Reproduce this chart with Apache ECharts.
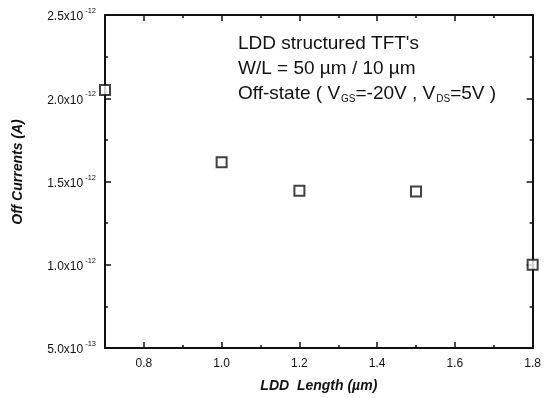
<!DOCTYPE html>
<html>
<head>
<meta charset="utf-8">
<script src="https://cdn.jsdelivr.net/npm/echarts@6/dist/echarts.min.js"></script>
<style>html,body{margin:0;padding:0;background:#fff;}#c{width:544px;height:398px;}</style>
</head>
<body>
<div id="c"></div>
<script>
// LDD length (um)
var lddLength = [0.7, 1.0, 1.2, 1.5, 1.8];
// Off currents, in units of 1e-12 A
var offCurrent = [2.05, 1.615, 1.445, 1.44, 1.0];
var xMajorTicks = [0.8, 1.0, 1.2, 1.4, 1.6, 1.8];
var xMinorTicks = [0.7, 0.9, 1.1, 1.3, 1.5, 1.7];
var yTickLabels = {"0.5": ["5.0x10", "-13"], "1": ["1.0x10", "-12"], "1.5": ["1.5x10", "-12"], "2": ["2.0x10", "-12"], "2.5": ["2.5x10", "-12"]};

var chart = echarts.init(document.getElementById('c'), null, {renderer: 'canvas'});
var FONT = "'Liberation Sans', Arial, sans-serif";
var lineStyle = {color: '#111', width: 2};
var xBase = {type: 'value', min: 0.7, max: 1.8, splitLine: {show: false}};
var option = {
  backgroundColor: '#fff',
  animation: false,
  grid: {left: 105, right: 10, top: 15, bottom: 48},
  xAxis: [
    Object.assign({}, xBase, {
      position: 'bottom',
      axisLine: {show: true, lineStyle: lineStyle},
      axisTick: {show: true, inside: true, length: 6, lineStyle: {color: '#111', width: 1.5}, customValues: xMajorTicks},
      axisLabel: {customValues: xMajorTicks, color: '#111', fontSize: 12, fontFamily: FONT, margin: 10,
        formatter: function (v) { return v.toFixed(1); }},
      name: '{t|LDD  Length (\u00b5m)}', nameLocation: 'middle', nameGap: 31,
      nameTextStyle: {rich: {t: {fontSize: 14, fontWeight: 'bold', fontStyle: 'italic', fontFamily: FONT, color: '#111'}}}
    }),
    Object.assign({}, xBase, {
      position: 'bottom',
      axisLine: {show: false},
      axisTick: {show: true, inside: true, length: 3, lineStyle: {color: '#111', width: 1.5}, customValues: xMinorTicks},
      axisLabel: {show: false}
    }),
    Object.assign({}, xBase, {
      position: 'top',
      axisLine: {show: true, lineStyle: lineStyle},
      axisTick: {show: true, inside: true, length: 6, lineStyle: {color: '#111', width: 1.5}, customValues: xMajorTicks},
      axisLabel: {show: false}
    }),
    Object.assign({}, xBase, {
      position: 'top',
      axisLine: {show: false},
      axisTick: {show: true, inside: true, length: 3, lineStyle: {color: '#111', width: 1.5}, customValues: xMinorTicks},
      axisLabel: {show: false}
    })
  ],
  yAxis: [
    {
      type: 'value', min: 0.5, max: 2.5, interval: 0.5, position: 'left',
      splitLine: {show: false},
      axisLine: {show: true, lineStyle: lineStyle},
      axisTick: {show: true, inside: true, length: 6, lineStyle: {color: '#111', width: 1.5}},
      minorTick: {show: true, splitNumber: 2, length: 3, lineStyle: {color: '#111', width: 1.5}},
      axisLabel: {
        margin: 9, color: '#111',
        formatter: function (v) {
          var k = String(Math.round(v * 10) / 10);
          var p = yTickLabels[k];
          return p ? '{b|' + p[0] + '}{s|' + p[1] + '}' : '';
        },
        rich: {
          b: {fontSize: 12, fontFamily: FONT, color: '#111', padding: [4, 0, 0, 0]},
          s: {fontSize: 7.5, fontFamily: FONT, color: '#111', padding: [0, 0, 8, 2]}
        }
      }
    },
    {
      type: 'value', min: 0.5, max: 2.5, interval: 0.5, position: 'right',
      splitLine: {show: false},
      axisLine: {show: true, lineStyle: lineStyle},
      axisTick: {show: true, inside: true, length: 6, lineStyle: {color: '#111', width: 1.5}},
      minorTick: {show: true, splitNumber: 2, length: 3, lineStyle: {color: '#111', width: 1.5}},
      axisLabel: {show: false}
    }
  ],
  graphic: [
    {type: 'text', x: 18, y: 172, rotation: Math.PI / 2, style: {
      text: 'Off Currents (A)', font: "italic bold 14px 'Liberation Sans', Arial, sans-serif", fill: '#111',
      align: 'center', verticalAlign: 'middle'}},
    {type: 'text', left: 238, top: 34, style: {text: "LDD structured TFT's", font: "19px 'Liberation Sans', Arial, sans-serif", fill: '#111'}},
    {type: 'text', left: 238, top: 59, style: {text: 'W/L = 50 \u00b5m / 10 \u00b5m', font: "19px 'Liberation Sans', Arial, sans-serif", fill: '#111'}},
    {type: 'text', left: 238, top: 84, style: {
      text: 'Off-state ( V{s|GS}=-20V , V{s|DS}=5V )',
      font: "19px 'Liberation Sans', Arial, sans-serif", fill: '#111',
      rich: {s: {fontSize: 10, fontFamily: FONT, fill: '#111', padding: [11, 0, 0, 1]}}
    }}
  ],
  series: [{
    type: 'scatter',
    xAxisIndex: 0, yAxisIndex: 0,
    symbol: 'rect', symbolSize: 10,
    itemStyle: {color: '#fff', borderColor: '#111', borderWidth: 2},
    data: lddLength.map(function (x, i) { return [x, offCurrent[i]]; }),
    clip: false
  }]
};
chart.setOption(option);
</script>
</body>
</html>
